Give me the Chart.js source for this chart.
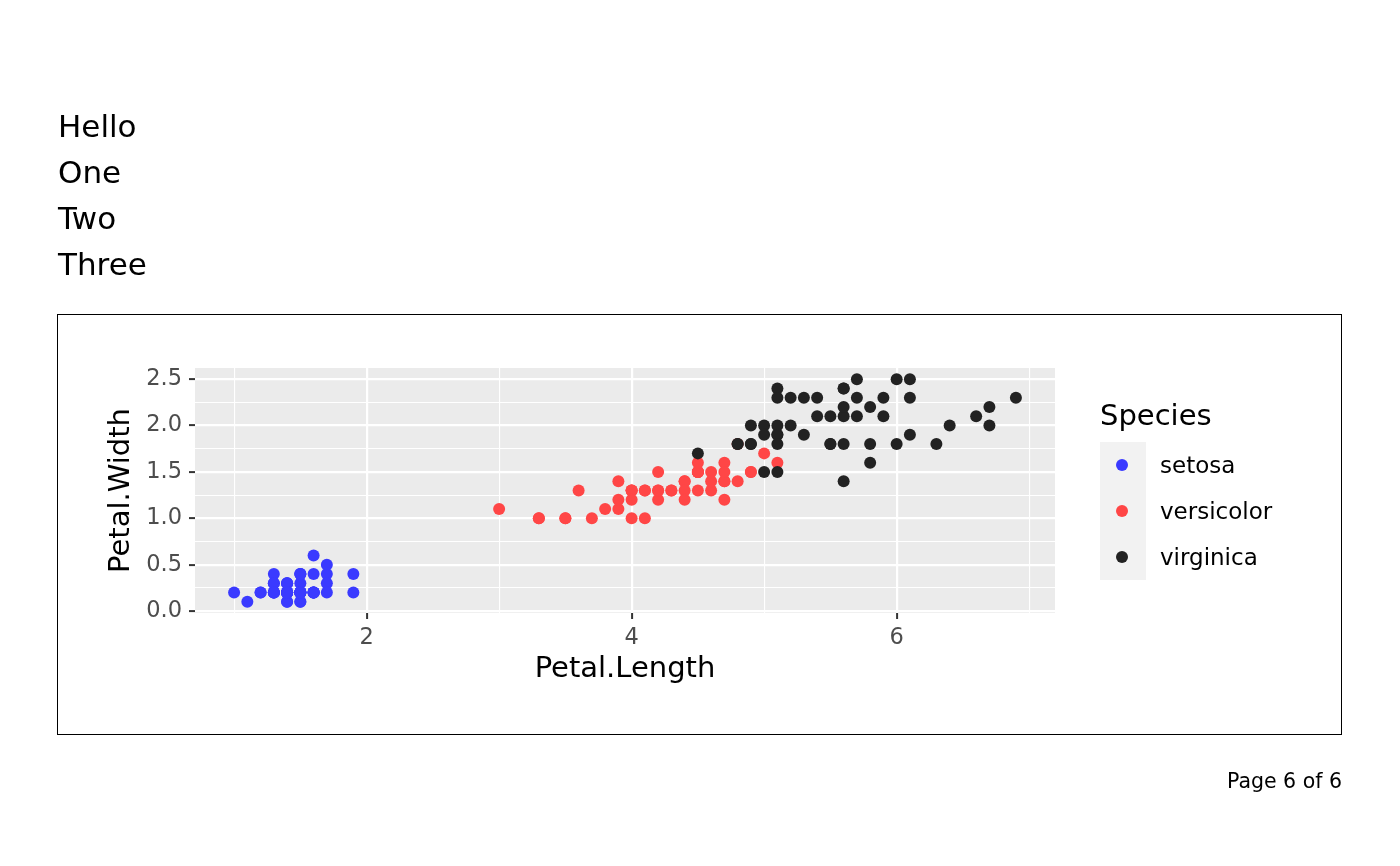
<!DOCTYPE html>
<html>
<head>
<meta charset="utf-8">
<script src="https://cdn.jsdelivr.net/npm/chart.js@4.4.1/dist/chart.umd.min.js"></script>
<style>
  body { margin: 0; background: #fff; font-family: "DejaVu Sans", sans-serif; }
  #wrap { position: relative; width: 1400px; height: 866px; }
  #chart { position: absolute; left: 0; top: 0; }
  .lines { position: absolute; left: 58px; top: 103px; font-size: 31px; line-height: 46px; color: #000; }
  .box { position: absolute; left: 57px; top: 314px; width: 1283px; height: 419px; border: 1.5px solid #000; pointer-events: none; }
  .legend { position: absolute; left: 1100px; top: 396px; color: #000; }
  .legend .title { font-size: 29px; height: 46px; line-height: 38px; }
  .legend .row { display: flex; align-items: center; height: 46px; }
  .legend .key { width: 46px; height: 46px; background: #f2f2f2; position: relative; }
  .legend .dot { position: absolute; left: 16px; top: 17px; width: 12px; height: 12px; border-radius: 50%; }
  .legend .lab { font-size: 23px; margin-left: 14px; }
  .page { position: absolute; right: 58px; top: 769px; font-size: 20.5px; color: #000; }
</style>
</head>
<body>
<div id="wrap">
  <canvas id="chart" width="1400" height="866"></canvas>
  <div class="lines">Hello<br>One<br>Two<br>Three</div>
  <div class="box"></div>
  <div class="legend" id="legend"></div>
  <div class="page">Page 6 of 6</div>
</div>
<script>
// iris petal measurements, per species
const species = ["setosa", "versicolor", "virginica"];
const colors = ["#3a3aff", "#ff4646", "#222222"];

const setosaLength = [1.4,1.4,1.3,1.5,1.4,1.7,1.4,1.5,1.4,1.5,1.5,1.6,1.4,1.1,1.2,1.5,1.3,1.4,1.7,1.5,
  1.7,1.5,1.0,1.7,1.9,1.6,1.6,1.5,1.4,1.6,1.6,1.5,1.5,1.4,1.5,1.2,1.3,1.4,1.3,1.5,
  1.3,1.3,1.3,1.6,1.9,1.4,1.6,1.4,1.5,1.4];
const setosaWidth = [0.2,0.2,0.2,0.2,0.2,0.4,0.3,0.2,0.2,0.1,0.2,0.2,0.1,0.1,0.2,0.4,0.4,0.3,0.3,0.3,
  0.2,0.4,0.2,0.5,0.2,0.2,0.4,0.2,0.2,0.2,0.2,0.4,0.1,0.2,0.2,0.2,0.2,0.1,0.2,0.2,
  0.3,0.3,0.2,0.6,0.4,0.3,0.2,0.2,0.2,0.2];

const versicolorLength = [4.7,4.5,4.9,4.0,4.6,4.5,4.7,3.3,4.6,3.9,3.5,4.2,4.0,4.7,3.6,4.4,4.5,4.1,4.5,3.9,
  4.8,4.0,4.9,4.7,4.3,4.4,4.8,5.0,4.5,3.5,3.8,3.7,3.9,5.1,4.5,4.5,4.7,4.4,4.1,4.0,
  4.4,4.6,4.0,3.3,4.2,4.2,4.2,4.3,3.0,4.1];
const versicolorWidth = [1.4,1.5,1.5,1.3,1.5,1.3,1.6,1.0,1.3,1.4,1.0,1.5,1.0,1.4,1.3,1.4,1.5,1.0,1.5,1.1,
  1.8,1.3,1.5,1.2,1.3,1.4,1.4,1.7,1.5,1.0,1.1,1.0,1.2,1.6,1.5,1.6,1.5,1.3,1.3,1.3,
  1.2,1.4,1.2,1.0,1.3,1.2,1.3,1.3,1.1,1.3];

const virginicaLength = [6.0,5.1,5.9,5.6,5.8,6.6,4.5,6.3,5.8,6.1,5.1,5.3,5.5,5.0,5.1,5.3,5.5,6.7,6.9,5.0,
  5.7,4.9,6.7,4.9,5.7,6.0,4.8,4.9,5.6,5.8,6.1,6.4,5.6,5.1,5.6,6.1,5.6,5.5,4.8,5.4,
  5.6,5.1,5.1,5.9,5.7,5.2,5.0,5.2,5.4,5.1];
const virginicaWidth = [2.5,1.9,2.1,1.8,2.2,2.1,1.7,1.8,1.8,2.5,2.0,1.9,2.1,2.0,2.4,2.3,1.8,2.2,2.3,1.5,
  2.3,2.0,2.0,1.8,2.1,1.8,1.8,1.8,2.1,1.6,1.9,2.0,2.2,1.5,1.4,2.3,2.4,1.8,1.8,2.1,
  2.4,2.3,1.9,2.3,2.5,2.3,1.9,2.0,2.3,1.8];

const xTicks = [1, 2, 3, 4, 5, 6, 7];
const xMajor = [2, 4, 6];
const yTicks = [0, 0.25, 0.5, 0.75, 1, 1.25, 1.5, 1.75, 2, 2.25, 2.5];
const yMajor = [0, 0.5, 1, 1.5, 2, 2.5];

const lengths = [setosaLength, versicolorLength, virginicaLength];
const widths = [setosaWidth, versicolorWidth, virginicaWidth];

const datasets = species.map((name, i) => ({
  label: name,
  data: lengths[i].map((x, j) => ({ x: x, y: widths[i][j] })),
  backgroundColor: colors[i],
  borderWidth: 0,
  pointRadius: 6,
  pointHoverRadius: 6,
  order: species.length - 1 - i  // later species drawn on top, like ggplot
}));

// legend with grey key boxes, ggplot style
const legend = document.getElementById('legend');
legend.innerHTML = '<div class="title">Species</div>' + species.map((name, i) =>
  `<div class="row"><div class="key"><div class="dot" style="background:${colors[i]}"></div></div><div class="lab">${name}</div></div>`
).join('');

const panelBg = {
  id: 'panelBg',
  beforeDraw(chart) {
    const a = chart.chartArea;
    chart.ctx.save();
    chart.ctx.fillStyle = '#ebebeb';
    chart.ctx.fillRect(a.left, a.top, a.right - a.left, a.bottom - a.top);
    chart.ctx.restore();
  }
};

Chart.defaults.font.family = '"DejaVu Sans", sans-serif';

const ctx = document.getElementById('chart').getContext('2d');
new Chart(ctx, {
  type: 'scatter',
  data: { datasets: datasets },
  plugins: [panelBg],
  options: {
    responsive: false,
    animation: false,
    layout: { padding: { left: 58, right: 345, top: 368, bottom: 0 } },
    plugins: { legend: { display: false }, tooltip: { enabled: false } },
    scales: {
      x: {
        type: 'linear',
        min: 0.705,
        max: 7.195,
        afterBuildTicks: s => { s.ticks = xTicks.map(v => ({ value: v })); },
        afterFit: s => { s.height = 253; },
        border: { display: false },
        grid: {
          color: '#ffffff',
          lineWidth: c => xMajor.includes(c.tick.value) ? 2.2 : 1.1,
          tickColor: c => xMajor.includes(c.tick.value) ? '#333333' : 'rgba(0,0,0,0)',
          tickLength: 6,
          tickWidth: 2
        },
        ticks: {
          autoSkip: false,
          maxRotation: 0,
          padding: 6,
          color: '#4d4d4d',
          font: { size: 22.5 },
          callback: v => xMajor.includes(v) ? String(v) : ''
        },
        title: { display: true, text: 'Petal.Length', color: '#000', font: { size: 29 }, padding: { top: 6, bottom: 179 } }
      },
      y: {
        type: 'linear',
        min: -0.02,
        max: 2.62,
        afterBuildTicks: s => { s.ticks = yTicks.map(v => ({ value: v })); },
        afterFit: s => { s.width = 137; },
        border: { display: false },
        grid: {
          color: '#ffffff',
          lineWidth: c => yMajor.includes(c.tick.value) ? 2.2 : 1.1,
          tickColor: c => yMajor.includes(c.tick.value) ? '#333333' : 'rgba(0,0,0,0)',
          tickLength: 6,
          tickWidth: 2
        },
        ticks: {
          autoSkip: false,
          padding: 7,
          color: '#4d4d4d',
          font: { size: 22.5 },
          callback: v => yMajor.includes(v) ? v.toFixed(1) : ''
        },
        title: { display: true, text: 'Petal.Width', color: '#000', font: { size: 29 }, padding: { top: 46, bottom: 0 } }
      }
    }
  }
});
</script>
</body>
</html>
